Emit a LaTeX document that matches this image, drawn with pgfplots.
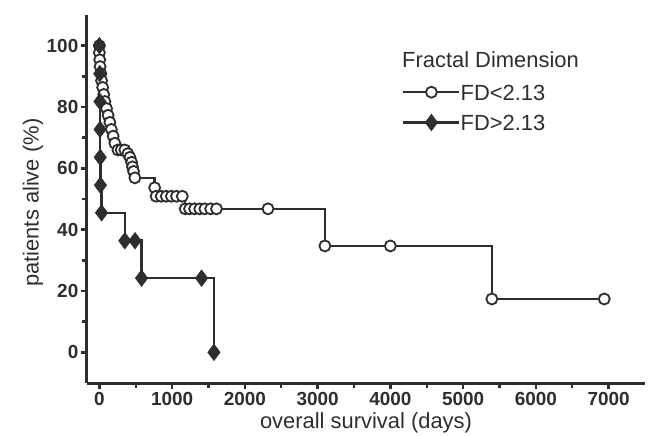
\documentclass[border=0pt]{standalone}
\usepackage{pgfplots}
\pgfplotsset{compat=1.18}
\usepackage{fontspec}
\setmainfont{Liberation Sans}
\definecolor{ink}{HTML}{2E2E2E}
\begin{document}
\begin{tikzpicture}
\begin{axis}[
  scale only axis, width=558bp, height=368bp,
  xmin=-170, xmax=7500, ymin=-10, ymax=110,
  clip=false,
  axis x line*=bottom, axis y line*=left,
  axis line style={-, line width=3bp, draw=ink},
  xtick={0,1000,...,7000}, ytick={0,20,...,100},
  minor x tick num=1, minor y tick num=1,
  tick align=outside,
  major tick length=6bp, minor tick length=4.5bp,
  every tick/.style={draw=ink, line width=2.4bp},
  /pgf/number format/assume math mode=true,
  /pgf/number format/1000 sep={},
  ticklabel style={font=\fontsize{19}{19}\selectfont\bfseries, text=ink},
  yticklabel style={inner sep=2.5bp},
  xticklabel style={inner sep=3.5bp},
  xlabel={overall survival (days)},
  ylabel={patients alive (\%)},
  label style={font=\fontsize{22}{24}\selectfont, text=ink},
  xlabel style={at={(axis description cs:0.5,-0.1223)}, anchor=base},
  ylabel style={at={(axis description cs:-0.097,0.49)}, anchor=center},
  legend style={at={(0.5645,0.8125)}, anchor=north west, draw=none, fill=none,
    inner sep=0pt, row sep=14bp,
    nodes={inner sep=0pt, text height=16bp, text depth=0pt, font=\fontsize{22}{24}\selectfont, text=ink}},
  legend cell align=left,
  legend image code/.code={\draw[mark repeat=2,mark phase=2,#1] plot coordinates {(0bp,0bp) (28bp,0bp) (56bp,0bp)};},
]
\addplot[const plot, draw=ink, line width=2.5bp, mark=*, mark size=5.5bp,
  mark options={fill=white, draw=ink, line width=1.8bp, solid}]
coordinates {
(0,100)(0,97.7)(5,95.4)(10,93.2)(20,90.9)(30,88.6)(45,86.4)(60,84.1)(76,81.8)
(99,79.5)(120,77.3)(144,75)(165,72.7)(190,70.5)(213,68.2)(255,66)(300,66)(350,66)
(392,64.8)(420,63.6)(443,62)(455,60.5)(470,59)(488,56.9)(760,53.7)(780,50.9)
(850,50.9)(920,50.9)(990,50.9)(1060,50.9)(1140,50.9)(1180,46.8)(1240,46.8)
(1310,46.8)(1380,46.8)(1450,46.8)(1530,46.8)(1610,46.8)(2318,46.8)(3100,34.7)
(4000,34.7)(5395,17.4)(6940,17.4)
};
\addlegendentry{FD<2.13}
\addplot[const plot, draw=ink, line width=2.5bp, mark=diamond*, mark size=8.3bp,
  mark options={fill=ink, draw=ink, line width=0.5bp, solid}]
coordinates {
(0,100)(5,90.9)(8,81.8)(10,72.7)(12,63.6)(15,54.5)(30,45.5)(350,36.4)(490,36.4)
(580,24.2)(1405,24.2)(1575,0)
};
\addlegendentry{FD>2.13}
\node[anchor=base west, font=\fontsize{22}{24}\selectfont, text=ink, inner sep=0pt]
  at (axis description cs:0.5645,0.8587) {Fractal Dimension};
\path (axis description cs:-0.1559,1.0408) rectangle (axis description cs:1.00896,-0.1332);
\end{axis}
\end{tikzpicture}
\end{document}
